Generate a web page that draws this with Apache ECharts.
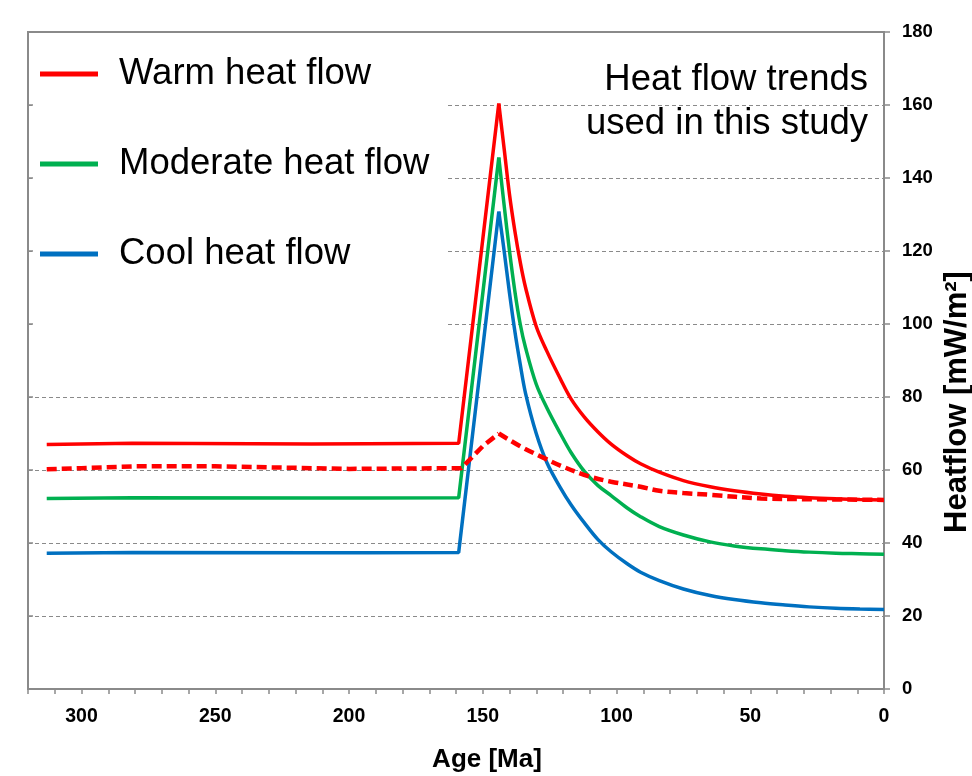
<!DOCTYPE html>
<html>
<head>
<meta charset="utf-8">
<script src="https://cdn.jsdelivr.net/npm/echarts@6/dist/echarts.min.js"></script>
<style>html,body{margin:0;padding:0;background:#fff;}#chart{width:972px;height:776px;}</style>
</head>
<body>
<div id="chart"></div>
<script>
// ---- data ----
const seriesNames = ['Warm heat flow', 'Moderate heat flow', 'Cool heat flow'];
// flat pre-event segment + linear rise to the peak
const riseAges = [313, 281, 214, 193, 159, 144];
const warmRise = [67.0, 67.3, 67.1, 67.2, 67.3, 160.4];
const moderateRise = [52.2, 52.4, 52.3, 52.3, 52.4, 145.6];
const coolRise = [37.2, 37.4, 37.3, 37.3, 37.4, 130.8];
// post-peak decay
const decayAges = [144, 142, 140, 138, 136, 134, 130, 126, 121, 117, 112, 107, 102, 96, 91, 84, 75, 65, 56, 46, 37, 28, 18, 9, 0];
const warmDecay = [160.4, 148, 135.5, 125.5, 117, 110, 99.3, 92.5, 85, 79.5, 74.5, 70.5, 67.1, 63.9, 61.7, 59.4, 57.1, 55.4, 54.3, 53.4, 52.8, 52.4, 52.1, 51.9, 51.8];
const moderateDecay = [145.6, 132.5, 120, 109, 100, 93.5, 83.5, 77, 70, 64.8, 59.6, 55.8, 53, 49.6, 47.2, 44.5, 42.2, 40.3, 39.2, 38.4, 37.9, 37.5, 37.2, 37.05, 36.9];
const coolDecay = [130.8, 120, 108.5, 98, 89, 81, 70, 62, 55.2, 50.5, 45.5, 41.0, 37.6, 34.3, 32.0, 29.7, 27.4, 25.6, 24.5, 23.6, 23.0, 22.5, 22.1, 21.9, 21.8];
// dashed warm trend
const dashedRiseAges = [313, 300, 280, 250, 220, 200, 180, 158, 150, 144];
const dashedRise = [60.2, 60.5, 61.0, 61.0, 60.6, 60.3, 60.4, 60.5, 66.5, 70];
const dashedDecayAges = [144, 136, 128, 121, 110, 102, 91, 84, 75, 65, 46, 28, 0];
const dashedDecay = [70, 66.5, 63.6, 61.2, 58.2, 56.8, 55.4, 54.3, 53.7, 53.2, 52.2, 52.0, 51.8];
const xTickLabels = [0, 50, 100, 150, 200, 250, 300];
const annotation = 'Heat flow trends\nused in this study';
const xName = 'Age [Ma]';
const yName = 'Heatflow [mW/m\u00B2]';

const pair = (xs, ys) => xs.map((x, i) => [x, ys[i]]);
const FONT = "'Liberation Sans', Arial, sans-serif";
const GREY = '#8a8a8a';
const COLORS = ['#ff0000', '#00b050', '#0070c0'];

function lineSeries(name, data, color, smooth, z, dashed) {
  return {
    name: name, type: 'line', data: data, showSymbol: false, smooth: smooth ? 0.35 : false,
    color: color, z: z,
    lineStyle: dashed ? {width: 4.5, color: color, type: [10, 5]} : {width: 3.5, color: color}
  };
}

const chart = echarts.init(document.getElementById('chart'), null, {renderer: 'canvas'});
chart.setOption({
  animation: false,
  backgroundColor: '#fff',
  grid: {left: 28, right: 88, top: 32, bottom: 87, show: true, borderColor: GREY, borderWidth: 2},
  legend: {
    data: seriesNames,
    orient: 'vertical',
    left: 33, top: 34,
    padding: [20, 16, 84, 7],
    itemGap: 50,
    itemWidth: 58, itemHeight: 5,
    icon: 'rect',
    backgroundColor: '#fff',
    textStyle: {fontFamily: FONT, fontSize: 36.5, color: '#000', lineHeight: 40, padding: [0, 0, 0, 16]}
  },
  xAxis: {
    type: 'value', min: 0, max: 320, interval: 10, inverse: true,
    axisLine: {show: true, lineStyle: {color: GREY, width: 2}},
    axisTick: {show: true, length: 5, lineStyle: {color: GREY, width: 1.5}},
    axisLabel: {
      margin: 18, fontFamily: FONT, fontSize: 19.5, fontWeight: 'bold', color: '#000',
      formatter: v => (xTickLabels.indexOf(v) >= 0 ? String(v) : '')
    },
    splitLine: {show: false}
  },
  yAxis: [{
    type: 'value', position: 'right', min: 0, max: 180, interval: 20,
    axisLine: {show: true, lineStyle: {color: GREY, width: 2}},
    axisTick: {show: true, length: 6, lineStyle: {color: GREY, width: 1.5}},
    axisLabel: {margin: 18, fontFamily: FONT, fontSize: 18.5, fontWeight: 'bold', color: '#000'},
    splitLine: {show: true, lineStyle: {color: GREY, width: 1, type: [4, 3]}}
  }, {
    type: 'value', position: 'left', min: 0, max: 180, interval: 20,
    axisLine: {show: true, lineStyle: {color: GREY, width: 2}},
    axisTick: {show: true, inside: true, length: 5, lineStyle: {color: GREY, width: 1.5}},
    axisLabel: {show: false},
    splitLine: {show: false}
  }],
  series: [
    lineSeries(seriesNames[0], pair(riseAges, warmRise), COLORS[0], false, 5),
    lineSeries(seriesNames[0], pair(decayAges, warmDecay), COLORS[0], true, 5),
    lineSeries(seriesNames[1], pair(riseAges, moderateRise), COLORS[1], false, 4),
    lineSeries(seriesNames[1], pair(decayAges, moderateDecay), COLORS[1], true, 4),
    lineSeries(seriesNames[2], pair(riseAges, coolRise), COLORS[2], false, 3),
    lineSeries(seriesNames[2], pair(decayAges, coolDecay), COLORS[2], true, 3),
    lineSeries('Warm trend (dashed)', pair(dashedRiseAges, dashedRise), COLORS[0], false, 6, true),
    lineSeries('Warm trend (dashed)', pair(dashedDecayAges, dashedDecay), COLORS[0], true, 6, true)
  ],
  graphic: [
    {type: 'text', x: 868, y: 58, style: {text: annotation, font: '36.5px ' + FONT, fill: '#000', align: 'right', verticalAlign: 'top', lineHeight: 44}},
    {type: 'text', x: 487, y: 760, style: {text: xName, font: 'bold 26px ' + FONT, fill: '#000', align: 'center', verticalAlign: 'middle'}},
    {type: 'text', x: 957, y: 402, rotation: Math.PI / 2, style: {text: yName, font: 'bold 31px ' + FONT, fill: '#000', align: 'center', verticalAlign: 'middle'}}
  ]
});
</script>
</body>
</html>
